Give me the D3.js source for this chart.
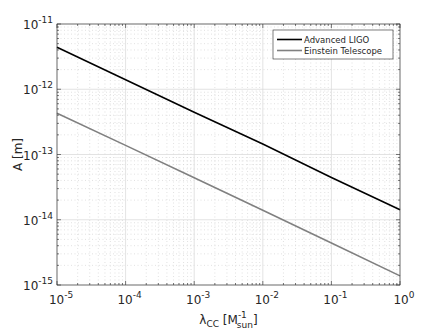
<!DOCTYPE html>
<html>
<head>
<meta charset="utf-8">
<script src="https://cdn.jsdelivr.net/npm/d3@7"></script>
<style>
  body { margin: 0; background: #fff; }
  text { font-family: "DejaVu Sans", sans-serif; fill: #262626; }
</style>
</head>
<body>
<div id="chart"></div>
<script>
// data
const lambdaCC = [1e-5, 1e-4, 1e-3, 1e-2, 1e-1, 1];
const advancedLIGO = [4.4e-12, 1.4e-12, 4.45e-13, 1.45e-13, 4.45e-14, 1.42e-14];
const einsteinTelescope = [4.3e-13, 1.38e-13, 4.4e-14, 1.4e-14, 4.4e-15, 1.38e-15];
const seriesNames = ["Advanced LIGO", "Einstein Telescope"];
const seriesColors = ["#000000", "#808080"];
const xTicks = [1e-5, 1e-4, 1e-3, 1e-2, 1e-1, 1];
const yTicks = [1e-15, 1e-14, 1e-13, 1e-12, 1e-11];

const W = 443, H = 332;
const margin = { top: 24, right: 43, bottom: 47, left: 57 };
const width = W - margin.left - margin.right;
const height = H - margin.top - margin.bottom;

const svg = d3.select("#chart").append("svg")
    .attr("width", W)
    .attr("height", H);

const g = svg.append("g")
    .attr("transform", `translate(${margin.left},${margin.top})`);

const x = d3.scaleLog().domain([1e-5, 1]).range([0, width]);
const y = d3.scaleLog().domain([1e-15, 1e-11]).range([height, 0]);

// minor tick positions
const minorX = [];
for (let e = -5; e < 0; e++) for (let k = 2; k <= 9; k++) minorX.push(k * Math.pow(10, e));
const minorY = [];
for (let e = -15; e < -11; e++) for (let k = 2; k <= 9; k++) minorY.push(k * Math.pow(10, e));

// minor grid (dotted)
g.append("g").selectAll("line").data(minorX).enter().append("line")
    .attr("x1", d => x(d)).attr("x2", d => x(d))
    .attr("y1", 0).attr("y2", height)
    .attr("stroke", "#d4d4d4").attr("stroke-width", 0.7)
    .attr("stroke-dasharray", "1,2.5");
g.append("g").selectAll("line").data(minorY).enter().append("line")
    .attr("y1", d => y(d)).attr("y2", d => y(d))
    .attr("x1", 0).attr("x2", width)
    .attr("stroke", "#d4d4d4").attr("stroke-width", 0.7)
    .attr("stroke-dasharray", "1,2.5");

// major grid
g.append("g").selectAll("line").data(xTicks).enter().append("line")
    .attr("x1", d => x(d)).attr("x2", d => x(d))
    .attr("y1", 0).attr("y2", height)
    .attr("stroke", "#dcdcdc").attr("stroke-width", 0.8);
g.append("g").selectAll("line").data(yTicks).enter().append("line")
    .attr("y1", d => y(d)).attr("y2", d => y(d))
    .attr("x1", 0).attr("x2", width)
    .attr("stroke", "#dcdcdc").attr("stroke-width", 0.8);

// lines
const line = d3.line()
    .x((d, i) => x(lambdaCC[i]))
    .y(d => y(d));

[advancedLIGO, einsteinTelescope].forEach((s, i) => {
    g.append("path")
        .datum(s)
        .attr("d", line)
        .attr("fill", "none")
        .attr("stroke", seriesColors[i])
        .attr("stroke-width", 1.6);
});

// axes box and ticks (inward, MATLAB style)
const axisColor = "#262626";
g.append("rect")
    .attr("width", width).attr("height", height)
    .attr("fill", "none").attr("stroke", axisColor).attr("stroke-width", 0.6);

const tickG = g.append("g").attr("stroke", axisColor).attr("stroke-width", 0.6);
xTicks.concat(minorX).forEach(d => {
    const len = xTicks.includes(d) ? 4 : 2;
    tickG.append("line").attr("x1", x(d)).attr("x2", x(d)).attr("y1", height).attr("y2", height - len);
    tickG.append("line").attr("x1", x(d)).attr("x2", x(d)).attr("y1", 0).attr("y2", len);
});
yTicks.concat(minorY).forEach(d => {
    const len = yTicks.includes(d) ? 4 : 2;
    tickG.append("line").attr("y1", y(d)).attr("y2", y(d)).attr("x1", 0).attr("x2", len);
    tickG.append("line").attr("y1", y(d)).attr("y2", y(d)).attr("x1", width).attr("x2", width - len);
});

// tick labels
function powLabel(sel, d) {
    const e = Math.round(Math.log10(d));
    sel.append("tspan").text("10");
    sel.append("tspan").attr("dy", -6).attr("font-size", 9).text(e);
}

g.append("g").selectAll("text").data(xTicks).enter().append("text")
    .attr("x", d => x(d) + 4)
    .attr("y", height + 19)
    .attr("text-anchor", "middle")
    .attr("font-size", 12)
    .each(function(d) { powLabel(d3.select(this), d); });

g.append("g").selectAll("text").data(yTicks).enter().append("text")
    .attr("x", -4)
    .attr("y", d => y(d) + 5)
    .attr("text-anchor", "end")
    .attr("font-size", 12)
    .each(function(d) { powLabel(d3.select(this), d); });

// axis labels
svg.append("text")
    .attr("transform", `translate(22,${margin.top + height / 2}) rotate(-90)`)
    .attr("text-anchor", "middle")
    .attr("font-size", 12)
    .text("A [m]");

const xl = svg.append("text")
    .attr("x", margin.left + width / 2)
    .attr("y", 324)
    .attr("text-anchor", "middle")
    .attr("font-size", 12);
xl.append("tspan").text("λ");
xl.append("tspan").attr("dy", 3).attr("font-size", 9).text("CC");
xl.append("tspan").attr("dy", -3).text(" [M");
xl.append("tspan").attr("dy", -6).attr("font-size", 9).text("-1");
xl.append("tspan").attr("dx", -10).attr("dy", 10).attr("font-size", 9).text("sun");
xl.append("tspan").attr("dy", -4).text("]");

// legend
const lg = svg.append("g").attr("transform", "translate(273,30)");
lg.append("rect")
    .attr("width", 120).attr("height", 29)
    .attr("fill", "#fff").attr("stroke", axisColor).attr("stroke-width", 0.6);
seriesNames.forEach((name, i) => {
    const yy = 9.5 + i * 11;
    lg.append("line")
        .attr("x1", 4).attr("x2", 29)
        .attr("y1", yy).attr("y2", yy)
        .attr("stroke", seriesColors[i]).attr("stroke-width", 1.6);
    lg.append("text")
        .attr("x", 31).attr("y", yy + 3)
        .attr("font-size", 8.5)
        .text(name);
});
</script>
</body>
</html>
